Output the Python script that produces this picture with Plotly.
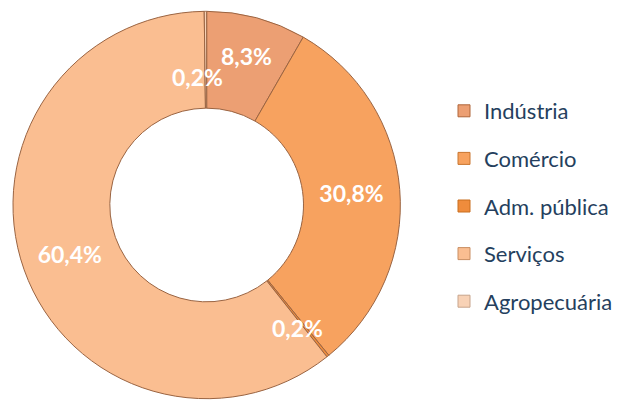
import math
import plotly.graph_objects as go

categories = ["Indústria", "Comércio", "Adm. pública", "Serviços", "Agropecuária"]
values = [8.3, 30.8, 0.2, 60.4, 0.2]
colors = ["#EC9F73", "#F7A25F", "#EF8C3C", "#FABE91", "#F8D2B6"]
legend_edge = ["#B0663A", "#C97630", "#C96F1F", "#C98E62", "#C7A48C"]

labels_text = [f"{v:.1f}%".replace(".", ",") for v in values]
W, H = 618, 403
cx, cy, R, HOLE = 207, 205, 194, 0.5
small = [v < 1 for v in values]
pie_text = ["" if s else t for s, t in zip(small, labels_text)]
# pixel nudges (x right, y down) for thin-slice labels to avoid collisions
nudge = {"Adm. pública": (0, 10), "Agropecuária": (-8, 17)}

fig = go.Figure()
fig.add_trace(go.Pie(
    labels=categories,
    values=values,
    text=pie_text,
    textinfo="text",
    textposition="inside",
    insidetextorientation="horizontal",
    sort=False,
    direction="clockwise",
    rotation=0,
    hole=HOLE,
    marker=dict(colors=colors, line=dict(color="#9A6442", width=1)),
    textfont=dict(family="Lato", size=23, color="white", weight="bold"),
    showlegend=False,
    domain=dict(x=[(cx - R) / W, (cx + R) / W], y=[(H - cy - R) / H, (H - cy + R) / H]),
))

# labels for the very thin slices, placed at their mid-angle in the ring
total = sum(values)
cum = 0.0
for cat, v, s, t in zip(categories, values, small, labels_text):
    if s:
        th = 2 * math.pi * (cum + v / 2) / total
        r = R * (1 + HOLE) / 2
        px = cx + r * math.sin(th)
        py = cy - r * math.cos(th)
        dx, dy = nudge.get(cat, (0, 0))
        fig.add_annotation(x=px / W, y=1 - py / H, xref="paper", yref="paper",
                           xanchor="center", yanchor="middle",
                           xshift=dx, yshift=-dy,
                           text=t, showarrow=False,
                           font=dict(family="Lato", size=23, color="white", weight="bold"))
    cum += v

for i, (cat, col) in enumerate(zip(categories, colors)):
    fig.add_trace(go.Scatter(
        x=[None], y=[None], mode="markers", name=cat,
        legendgroup=f"g{i}",
        marker=dict(symbol="square", size=12, color=col,
                    line=dict(color=legend_edge[i], width=1)),
    ))

fig.update_layout(
    width=W, height=H,
    margin=dict(l=0, r=0, t=0, b=0),
    paper_bgcolor="white", plot_bgcolor="white",
    xaxis=dict(visible=False), yaxis=dict(visible=False),
    legend=dict(
        x=445 / W, y=1 - 90 / H, xanchor="left", yanchor="top",
        font=dict(family="Lato", size=22, color="#253F5E"),
        tracegroupgap=16, itemsizing="trace",
        bgcolor="rgba(0,0,0,0)",
    ),
)

fig.write_html("out.html", config={"displayModeBar": False},
               post_script="document.body.style.margin='0px';")
